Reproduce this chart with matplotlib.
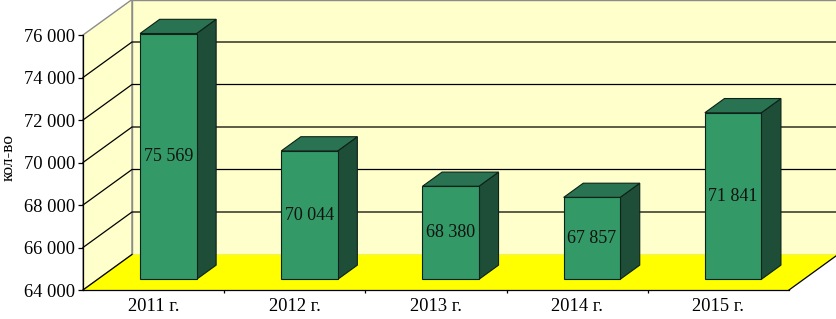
import matplotlib
matplotlib.use("Agg")
import matplotlib.pyplot as plt
from matplotlib.patches import Polygon
from matplotlib.lines import Line2D
from matplotlib.transforms import Affine2D, IdentityTransform
import numpy as np

categories = ["2011 г.", "2012 г.", "2013 г.", "2014 г.", "2015 г."]
values = [75569, 70044, 68380, 67857, 71841]
value_labels = ["75 569", "70 044", "68 380", "67 857", "71 841"]
yticks = [64000, 66000, 68000, 70000, 72000, 74000, 76000]
ytick_labels = ["64 000", "66 000", "68 000", "70 000", "72 000", "74 000", "76 000"]
ylabel = "кол-во"

YMIN, YMAX = 64000, 76000
DX, DY = 49.0, 35.5          # depth offset of the back wall (pixels)
F1, F2 = 0.3, 0.7            # depth range of bars
BW = 0.4                     # bar width (category units)

plt.rcParams["font.family"] = ["Liberation Serif", "DejaVu Serif"]

fig = plt.figure(figsize=(8.37, 3.19), dpi=100)
fig.patch.set_facecolor("white")
ax = fig.add_axes([83 / 837, 29 / 319, 706 / 837, 255 / 319])
ax.set_xlim(-0.5, len(categories) - 0.5)
ax.set_ylim(YMIN, YMAX)
ax.patch.set_visible(False)

idt = IdentityTransform()


def P(x, v, d):
    px, py = ax.transData.transform((x, v))
    return (px + d * DX, py + d * DY)


x0, x1 = -0.5, len(categories) - 0.5

# walls and floor
side = [P(x0, YMIN, 0), P(x0, YMAX, 0), P(x0, YMAX, 1), P(x0, YMIN, 1)]
back = [P(x0, YMIN, 1), P(x0, YMAX, 1), P(x1, YMAX, 1), P(x1, YMIN, 1)]
floor = [P(x0, YMIN, 0), P(x1, YMIN, 0), P(x1, YMIN, 1), P(x0, YMIN, 1)]
for pts, fc in [(side, "#FFFFCC"), (back, "#FFFFCC")]:
    ax.add_patch(Polygon(pts, closed=True, facecolor=fc, edgecolor="#8c8c8c",
                         lw=1.0, transform=idt, clip_on=False, zorder=0.2))
ax.add_patch(Polygon(floor, closed=True, facecolor="#FFFF00", edgecolor="none",
                     transform=idt, clip_on=False, zorder=0.4))

# gridlines
for v in yticks[1:-1]:
    pts = np.array([P(x0, v, 0), P(x0, v, 1), P(x1, v, 1)])
    ax.add_line(Line2D(pts[:, 0], pts[:, 1], color="black", lw=0.9,
                       transform=idt, clip_on=False, zorder=0.3))
# floor edges
for xx in (x0, x1):
    pts = np.array([P(xx, YMIN, 0), P(xx, YMIN, 1)])
    ax.add_line(Line2D(pts[:, 0], pts[:, 1], color="black", lw=0.9,
                       transform=idt, clip_on=False, zorder=0.5))

# bars
xs = np.arange(len(categories))
front_tr = ax.transData + Affine2D().translate(F1 * DX, F1 * DY)
for i, v in enumerate(values):
    side_pts = [P(i + BW / 2, YMIN, F1), P(i + BW / 2, v, F1),
                P(i + BW / 2, v, F2), P(i + BW / 2, YMIN, F2)]
    top_pts = [P(i - BW / 2, v, F1), P(i + BW / 2, v, F1),
               P(i + BW / 2, v, F2), P(i - BW / 2, v, F2)]
    ax.add_patch(Polygon(side_pts, closed=True, facecolor="#1E4D38",
                         edgecolor="#0d2218", lw=0.8, transform=idt,
                         clip_on=False, zorder=1))
    ax.add_patch(Polygon(top_pts, closed=True, facecolor="#2A7352",
                         edgecolor="#0d2218", lw=0.8, transform=idt,
                         clip_on=False, zorder=1))
ax.bar(xs, [v - YMIN for v in values], bottom=YMIN, width=BW,
       color="#339966", edgecolor="#0d2218", lw=0.8,
       transform=front_tr, clip_on=False, zorder=1.1)
for i, v in enumerate(values):
    ax.text(i, (v + YMIN) / 2, value_labels[i], transform=front_tr,
            ha="center", va="center", fontsize=13, color="#111111", zorder=3)

# axes styling
for s in ("top", "right"):
    ax.spines[s].set_visible(False)
for s in ("left", "bottom"):
    ax.spines[s].set_color("black")
    ax.spines[s].set_linewidth(0.9)
ax.set_yticks(yticks, ytick_labels)
ax.tick_params(axis="y", direction="out", length=3.5, width=0.9, pad=2,
               labelsize=13.3)
ax.set_xticks(np.arange(len(categories) - 1) + 0.5, [""] * (len(categories) - 1))
ax.set_xticks(xs, categories, minor=True)
ax.tick_params(axis="x", which="major", direction="out", length=2.5, width=0.9)
ax.tick_params(axis="x", which="minor", length=0, pad=6, labelsize=13.3)

fig.text(9 / 837, 1 - 158 / 319, ylabel, rotation=90, ha="center",
         va="center", fontsize=12.5)

fig.savefig("out.png", dpi=100, facecolor="white")
